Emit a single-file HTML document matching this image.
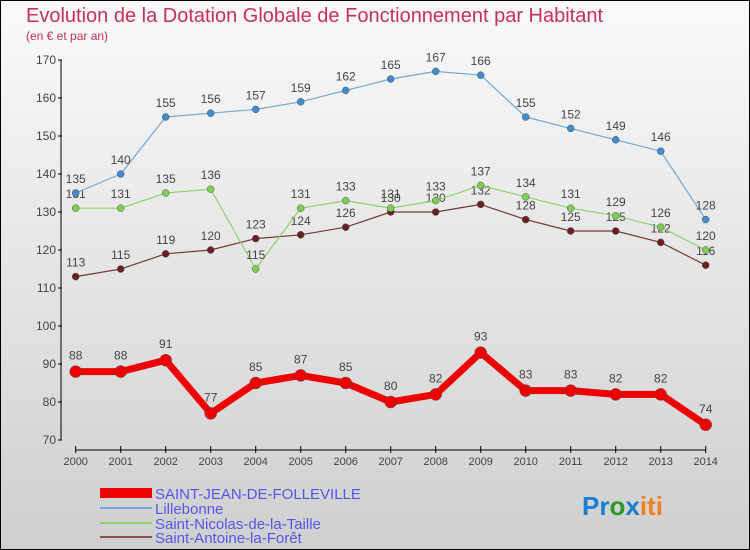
<!DOCTYPE html>
<html><head><meta charset="utf-8"><style>
body{margin:0;width:750px;height:550px;overflow:hidden;font-family:"Liberation Sans",sans-serif}
svg{display:block}
</style></head><body>
<svg id="c" width="750" height="550" xmlns="http://www.w3.org/2000/svg">
<defs><linearGradient id="bg" x1="0" y1="0" x2="0" y2="1"><stop offset="0" stop-color="#fafafa"/><stop offset="1" stop-color="#cfcfcf"/></linearGradient></defs>
<rect x="0.5" y="0.5" width="749" height="549" fill="url(#bg)" stroke="#000"/>
<text x="26" y="22" font-size="20" fill="#c8305a">Evolution de la Dotation Globale de Fonctionnement par Habitant</text>
<text x="26" y="40" font-size="12" fill="#c8305a">(en € et par an)</text>
<g id="axes"></g><g id="series"></g>
<g>
<rect x="100" y="488" width="52" height="10" fill="#e00"/>
<text x="155" y="499" font-size="15" fill="#5555ee">SAINT-JEAN-DE-FOLLEVILLE</text>
<line x1="100" y1="508" x2="152" y2="508" stroke="#6fa8d8" stroke-width="2"/>
<text x="155" y="514" font-size="15" fill="#5555ee">Lillebonne</text>
<line x1="100" y1="523" x2="152" y2="523" stroke="#8fd16a" stroke-width="2"/>
<text x="155" y="529" font-size="15" fill="#5555ee">Saint-Nicolas-de-la-Taille</text>
<line x1="100" y1="537" x2="152" y2="537" stroke="#8a5050" stroke-width="2"/>
<text x="155" y="543" font-size="15" fill="#5555ee">Saint-Antoine-la-Forêt</text>
</g>
<text x="582" y="515" font-size="26" font-weight="bold"><tspan fill="#1a7fd0">Pr</tspan><tspan fill="#2a9a2a">o</tspan><tspan fill="#1a7fd0">x</tspan><tspan fill="#f08020">iti</tspan></text>
</svg>
<script>
const years=[2000,2001,2002,2003,2004,2005,2006,2007,2008,2009,2010,2011,2012,2013,2014];
const yTicks=[70,80,90,100,110,120,130,140,150,160,170];
const sjf=[88,88,91,77,85,87,85,80,82,93,83,83,82,82,74];
const lil=[135,140,155,156,157,159,162,165,167,166,155,152,149,146,128];
const snt=[131,131,135,136,115,131,133,131,133,137,134,131,129,126,120];
const saf=[113,115,119,120,123,124,126,130,130,132,128,125,125,122,116];
const NS="http://www.w3.org/2000/svg";
const X=i=>75.7+i*45;
const Y=v=>440-(v-70)*3.8;
function mk(t,a,p){const e=document.createElementNS(NS,t);for(const k in a)e.setAttribute(k,a[k]);p.appendChild(e);return e;}
const ax=document.getElementById('axes');
const ya=mk('line',{x1:61,y1:Y(170),x2:61,y2:Y(70),stroke:'#000'},ax);


yTicks.forEach(v=>{mk('line',{x1:58,y1:Y(v),x2:62,y2:Y(v),stroke:'#000'},ax);
const t=mk('text',{x:56,y:Y(v)+4,'font-size':12,fill:'#444','text-anchor':'end'},ax);t.textContent=v;

});
const xa=mk('line',{x1:X(0),y1:450,x2:X(14),y2:450,stroke:'#000'},ax);


years.forEach((y,i)=>{mk('line',{x1:X(i),y1:446,x2:X(i),y2:453,stroke:'#000'},ax);
const t=mk('text',{x:X(i),y:465,'font-size':11,fill:'#444','text-anchor':'middle'},ax);t.textContent=y;

});
const sg=document.getElementById('series');
function series(d,name,col,dot,w,r,lblOff){
const g=mk('g',{},sg);


const p=mk('polyline',{points:d.map((v,i)=>X(i)+','+Y(v)).join(' '),fill:'none',stroke:col,'stroke-width':w,'stroke-linejoin':'round'},g);


d.forEach((v,i)=>{const c=mk('circle',{cx:X(i),cy:Y(v),r:r,fill:dot,stroke:'#555','stroke-width':0.5},g);


const t=mk('text',{x:X(i),y:Y(v)+lblOff,'font-size':12,fill:'#444','text-anchor':'middle'},g);t.textContent=v;

});
}
series(saf,'saint-antoine','#7a3535','#6a1f1f',1.2,3.5,-10);
series(snt,'saint-nicolas','#8fd16a','#7ccf50',1.2,3.5,-10);
series(lil,'lillebonne','#6fa8d8','#3f8ccf',1.2,3.5,-10);
series(sjf,'saint-jean-de-folleville','#e00','#e00',7,6,-12);
</script>
</body></html>
